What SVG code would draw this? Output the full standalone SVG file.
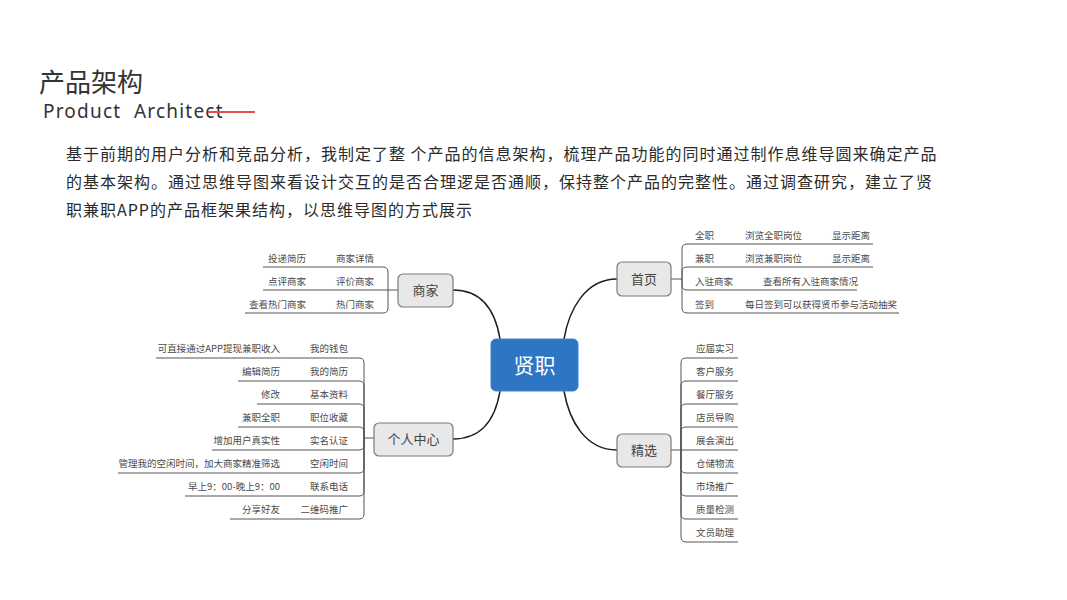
<svg xmlns="http://www.w3.org/2000/svg" width="1067" height="600" viewBox="0 0 1067 600">
<style>
.cn{font-family:"Noto Sans CJK SC","Noto Sans",sans-serif}
.title{font-size:26px;fill:#333}
.en{font-family:"Noto Sans","Liberation Sans",sans-serif;font-size:19px;fill:#333;letter-spacing:1.2px}
.para{font-size:16px;fill:#2b2b2b;letter-spacing:1px}
.node rect{fill:#e8e8e8;stroke:#7a7a7a;stroke-width:1.2}
.node text{font-size:13px;fill:#444;text-anchor:middle}
.leaf{font-size:9.5px;fill:#4a4a4a}
.end{text-anchor:end}
.curve{fill:none;stroke:#1e1e1e;stroke-width:1.5}
.br{fill:none;stroke:#555;stroke-width:1}
</style>
<rect width="1067" height="600" fill="#fff"/>
<g id="header">
<text class="cn title" x="39" y="92">产品架构</text>
<text class="en" y="118"><tspan x="43">Product</tspan><tspan x="134">Architect</tspan></text>
<line x1="208" y1="112" x2="255" y2="112" stroke="#e0514b" stroke-width="2"/>
<text class="cn para" x="66" y="160">基于前期的用户分析和竞品分析，我制定了整 个产品的信息架构，梳理产品功能的同时通过制作息维导圆来确定产品</text>
<text class="cn para" x="66" y="188">的基本架构。通过思维导图来看设计交互的是否合理逻是否通顺，保持整个产品的完整性。通过调查研究，建立了贤</text>
<text class="cn para" x="66" y="216">职兼职APP的产品框架果结构，以思维导图的方式展示</text>
</g>
<g id="connectors">
<path class="curve" d="M453,290 C485,290 496,315 500,339"/>
<path class="curve" d="M617,279 C585,279 569,310 564,339"/>
<path class="curve" d="M453,439 C485,439 496,415 500,391"/>
<path class="curve" d="M617,450 C585,450 569,420 564,391"/>
<path class="br" d="M263,267 H383 Q388,267 388,272 V290"/>
<path class="br" d="M263,290 H398"/>
<path class="br" d="M245,313 H383 Q388,313 388,308 V290"/>
<path class="br" d="M671,279 H682"/>
<path class="br" d="M682,279 V249 Q682,244 687,244 H873"/>
<path class="br" d="M682,279 V272 Q682,267 687,267 H873"/>
<path class="br" d="M682,279 V285 Q682,290 687,290 H857"/>
<path class="br" d="M682,279 V308 Q682,313 687,313 H899"/>
<path class="br" d="M364,438 H374"/>
<path class="br" d="M156,358 H359 Q364,358 364,363 V438"/>
<path class="br" d="M238,381 H359 Q364,381 364,386 V438"/>
<path class="br" d="M257,404 H359 Q364,404 364,409 V438"/>
<path class="br" d="M238,427 H359 Q364,427 364,432 V438"/>
<path class="br" d="M212,450 H359 Q364,450 364,445 V438"/>
<path class="br" d="M118,473 H359 Q364,473 364,468 V438"/>
<path class="br" d="M185,496 H359 Q364,496 364,491 V438"/>
<path class="br" d="M230,519 H359 Q364,519 364,514 V438"/>
<path class="br" d="M671,450 H738"/>
<path class="br" d="M681,450 V363 Q681,358 686,358 H738"/>
<path class="br" d="M681,450 V386 Q681,381 686,381 H738"/>
<path class="br" d="M681,450 V409 Q681,404 686,404 H738"/>
<path class="br" d="M681,450 V432 Q681,427 686,427 H738"/>
<path class="br" d="M681,450 V468 Q681,473 686,473 H738"/>
<path class="br" d="M681,450 V491 Q681,496 686,496 H738"/>
<path class="br" d="M681,450 V514 Q681,519 686,519 H738"/>
<path class="br" d="M681,450 V537 Q681,542 686,542 H738"/>
</g>
<g id="center">
<rect x="491" y="339" width="87" height="52" rx="5" fill="#2e75c3" stroke="#3a82cf" stroke-width="1"/>
<text class="cn" x="534.5" y="372.5" font-size="21" fill="#fff" text-anchor="middle">贤职</text>
</g>
<g id="shangjia" class="node cn">
<rect x="398" y="274" width="55" height="33" rx="5"/>
<text x="425.5" y="295">商家</text>
</g>
<g id="shouye" class="node cn">
<rect x="617" y="262" width="54" height="34" rx="5"/>
<text x="644" y="283.5">首页</text>
</g>
<g id="gerenzhongxin" class="node cn">
<rect x="374" y="423" width="79" height="33" rx="5"/>
<text x="413.5" y="444">个人中心</text>
</g>
<g id="jingxuan" class="node cn">
<rect x="617" y="434" width="54" height="33" rx="5"/>
<text x="644" y="455">精选</text>
</g>
<g id="shangjia-items" class="cn leaf">
<text class="end" x="306" y="262">投递简历</text><text class="end" x="374" y="262">商家详情</text>
<text class="end" x="306" y="285">点评商家</text><text class="end" x="374" y="285">评价商家</text>
<text class="end" x="306" y="308">查看热门商家</text><text class="end" x="374" y="308">热门商家</text>
</g>
<g id="shouye-items" class="cn leaf">
<text x="695" y="239">全职</text><text x="745" y="239">浏览全职岗位</text><text x="832" y="239">显示距离</text>
<text x="695" y="262">兼职</text><text x="745" y="262">浏览兼职岗位</text><text x="832" y="262">显示距离</text>
<text x="695" y="285">入驻商家</text><text x="763" y="285">查看所有入驻商家情况</text>
<text x="695" y="308">签到</text><text x="745" y="308">每日签到可以获得贤币参与活动抽奖</text>
</g>
<g id="geren-items" class="cn leaf">
<text class="end" x="280" y="352">可直接通过APP提现兼职收入</text><text class="end" x="348" y="352">我的钱包</text>
<text class="end" x="280" y="375">编辑简历</text><text class="end" x="348" y="375">我的简历</text>
<text class="end" x="280" y="398">修改</text><text class="end" x="348" y="398">基本资料</text>
<text class="end" x="280" y="421">兼职全职</text><text class="end" x="348" y="421">职位收藏</text>
<text class="end" x="280" y="444">增加用户真实性</text><text class="end" x="348" y="444">实名认证</text>
<text class="end" x="280" y="467">管理我的空闲时间，加大商家精准筛选</text><text class="end" x="348" y="467">空闲时间</text>
<text class="end" x="280" y="490">早上9：00-晚上9：00</text><text class="end" x="348" y="490">联系电话</text>
<text class="end" x="280" y="513">分享好友</text><text class="end" x="348" y="513">二维码推广</text>
</g>
<g id="jingxuan-items" class="cn leaf">
<text x="696" y="352">应届实习</text>
<text x="696" y="375">客户服务</text>
<text x="696" y="398">餐厅服务</text>
<text x="696" y="421">店员导购</text>
<text x="696" y="444">展会演出</text>
<text x="696" y="467">仓储物流</text>
<text x="696" y="490">市场推广</text>
<text x="696" y="513">质量检测</text>
<text x="696" y="536">文员助理</text>
</g>
</svg>
